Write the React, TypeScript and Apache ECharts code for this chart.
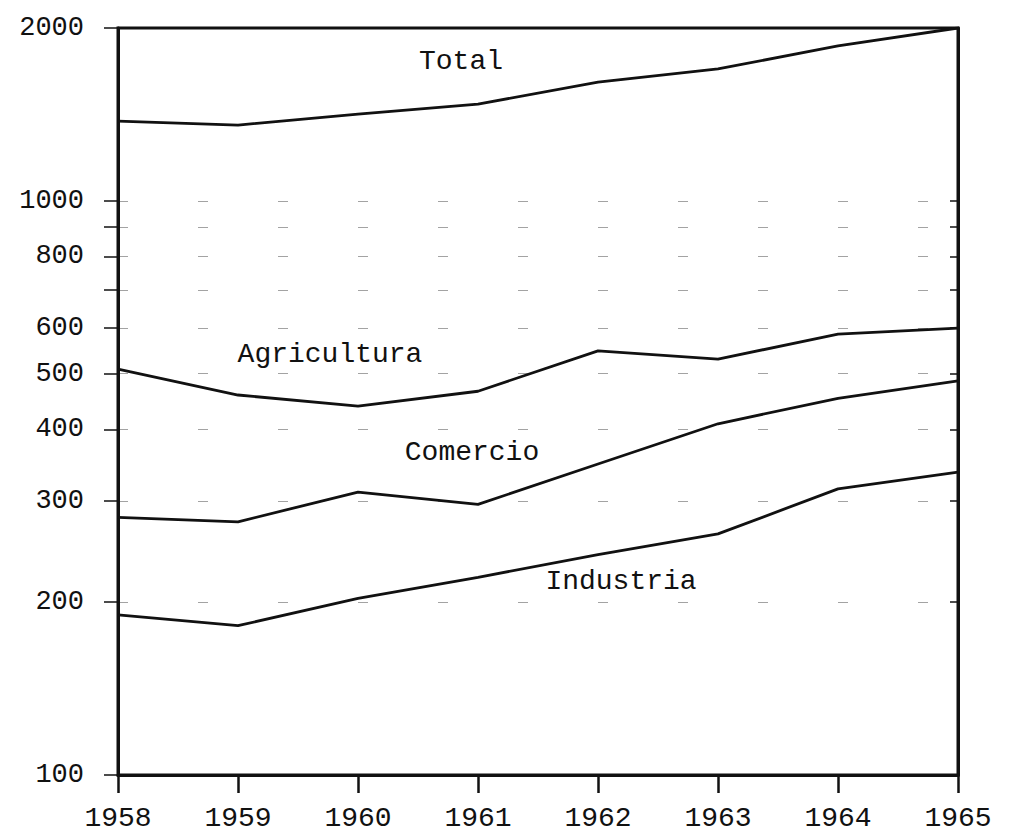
import React, { useEffect, useRef } from "react";
import * as echarts from "echarts";

const years = ["1958", "1959", "1960", "1961", "1962", "1963", "1964", "1965"];
const total = [1377, 1355, 1416, 1474, 1610, 1697, 1861, 2000];
const agricultura = [509, 459, 439, 466, 548, 530, 586, 600];
const comercio = [281, 276, 311, 296, 348, 409, 453, 486];
const industria = [190, 182, 203, 221, 242, 263, 315, 337];

const yTickValues = [100, 200, 300, 400, 500, 600, 700, 800, 900, 1000, 2000];
const yLabelValues = [100, 200, 300, 400, 500, 600, 800, 1000, 2000];
const gridValues = [200, 300, 400, 500, 600, 700, 800, 900, 1000];

const FONT = "'Liberation Mono', 'DejaVu Sans Mono', monospace";

export default function App() {
  const ref = useRef<HTMLDivElement>(null);
  useEffect(() => {
    if (!ref.current) return;
    const chart = echarts.init(ref.current, null, { renderer: "svg" });
    const lineSeries = (name: string, data: number[]) => ({
      name,
      type: "line",
      data,
      symbol: "none",
      lineStyle: { color: "#111", width: 2.8 },
      z: 5,
    });
    chart.setOption({
      animation: false,
      backgroundColor: "#fff",
      grid: {
        left: 118,
        right: 52,
        top: 28,
        bottom: 61,
        show: true,
        borderColor: "#111",
        borderWidth: 3,
      },
      xAxis: {
        type: "category",
        data: years,
        boundaryGap: false,
        axisLine: { show: true, lineStyle: { color: "#111", width: 3 } },
        axisTick: { show: true, inside: false, length: 18, lineStyle: { color: "#111", width: 2.5 } },
        axisLabel: { color: "#111", fontFamily: FONT, fontSize: 28, margin: 29 },
        splitLine: { show: false },
      },
      yAxis: [
        {
          type: "log",
          logBase: 10,
          min: 100,
          max: 2000,
          axisLine: { show: true, lineStyle: { color: "#111", width: 3 } },
          axisTick: {
            show: true,
            inside: false,
            length: 14,
            customValues: yTickValues,
            lineStyle: { color: "#111", width: 1.5 },
          },
          axisLabel: {
            color: "#111",
            fontFamily: FONT,
            fontSize: 27,
            margin: 34,
            customValues: yLabelValues,
            formatter: (v: number) => String(Math.round(v)),
          },
          splitLine: { show: false },
          minorTick: { show: false },
        },
        {
          type: "log",
          logBase: 10,
          min: 100,
          max: 2000,
          position: "right",
          axisLine: { show: true, lineStyle: { color: "#111", width: 3 } },
          axisTick: {
            show: true,
            inside: true,
            length: 8,
            customValues: gridValues,
            lineStyle: { color: "#111", width: 1.5 },
          },
          axisLabel: { show: false },
          splitLine: {
            show: true,
            lineStyle: { color: "#666", width: 1.2, type: [10, 70], opacity: 0.6 },
          },
        },
      ],
      series: [
        lineSeries("Total", total),
        lineSeries("Agricultura", agricultura),
        lineSeries("Comercio", comercio),
        lineSeries("Industria", industria),
      ],
      graphic: [
        { type: "text", x: 461, y: 61, style: { text: "Total", font: `28px ${FONT}`, fill: "#111", align: "center", verticalAlign: "middle" } },
        { type: "text", x: 330, y: 354, style: { text: "Agricultura", font: `28px ${FONT}`, fill: "#111", align: "center", verticalAlign: "middle" } },
        { type: "text", x: 472, y: 452, style: { text: "Comercio", font: `28px ${FONT}`, fill: "#111", align: "center", verticalAlign: "middle" } },
        { type: "text", x: 621, y: 581, style: { text: "Industria", font: `28px ${FONT}`, fill: "#111", align: "center", verticalAlign: "middle" } },
      ],
    });
    return () => chart.dispose();
  }, []);
  return (
    <div
      ref={ref}
      style={{ position: "fixed", left: 0, top: 0, width: 1010, height: 836, background: "#fff" }}
    />
  );
}
